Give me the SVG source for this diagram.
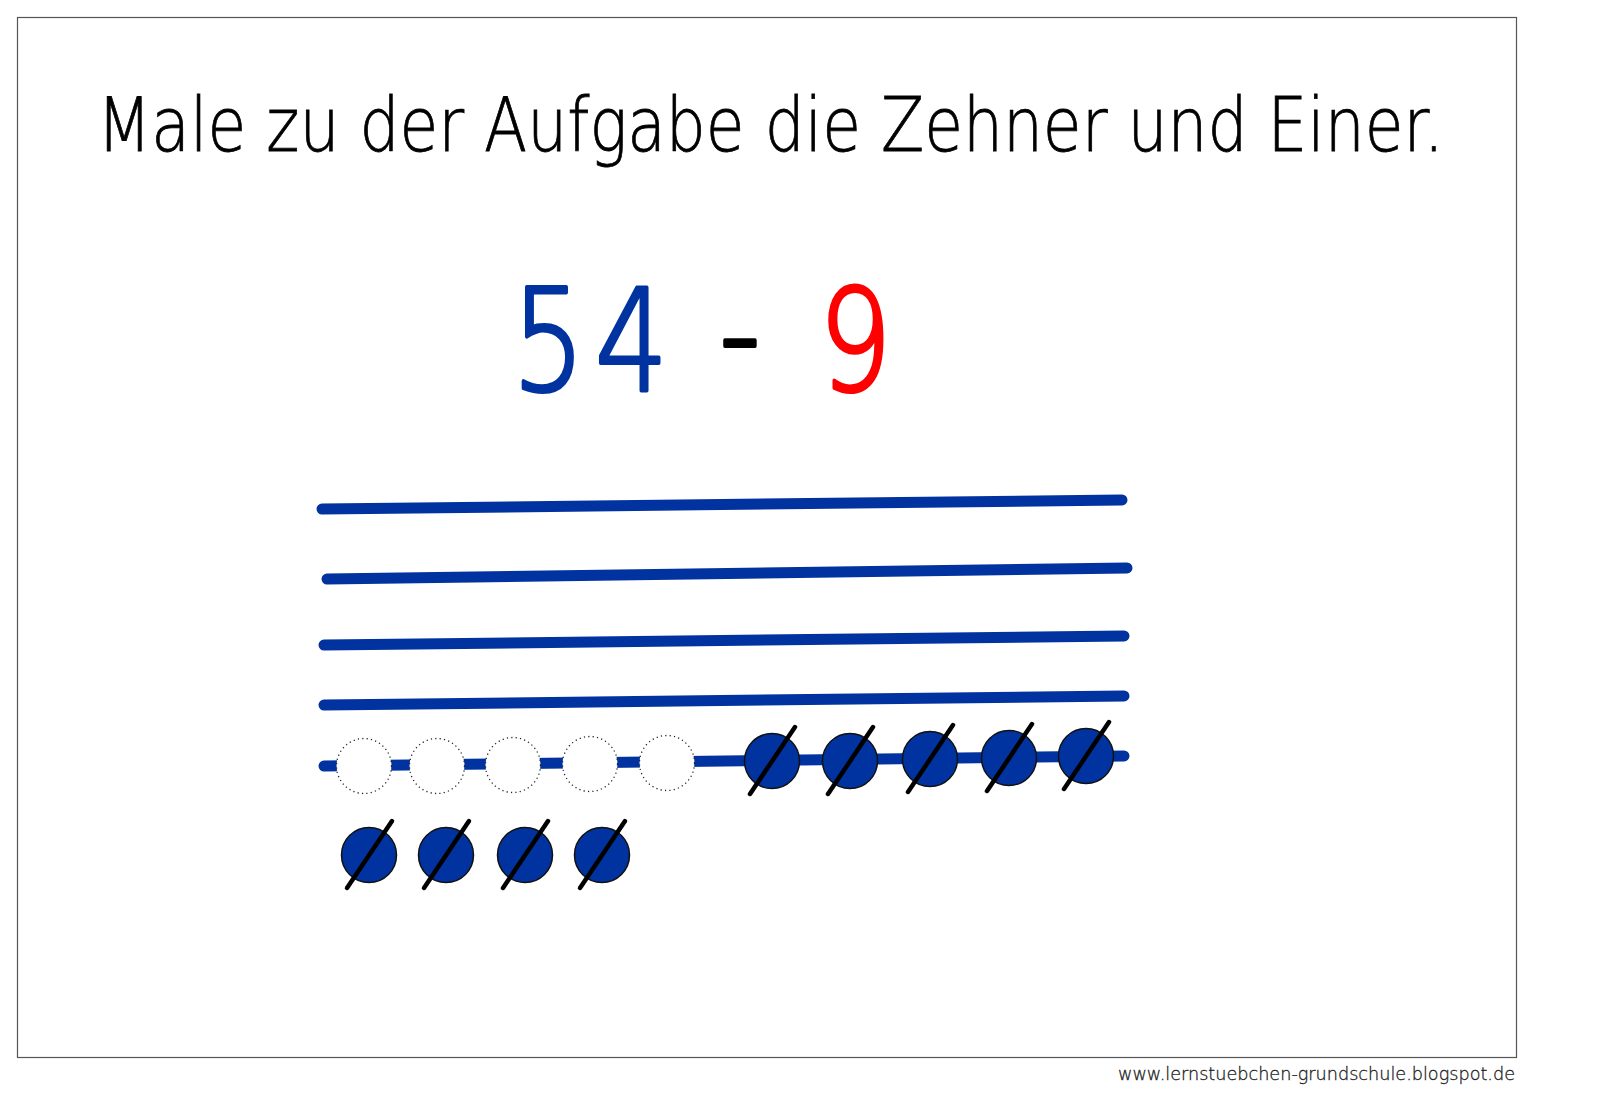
<svg xmlns="http://www.w3.org/2000/svg" width="1600" height="1095" viewBox="0 0 1600 1095">
<style>
.rod{stroke:#0033a0;stroke-width:11;stroke-linecap:round;fill:none}
.bead{fill:#0033a0;stroke:#111;stroke-width:1.5}
.slash{stroke:#000;stroke-width:4.5;stroke-linecap:round}
.empty{fill:#fff;stroke:#222;stroke-width:1.3;stroke-dasharray:1.2 3.2}
.t{font-family:"DejaVu Sans","Liberation Sans",sans-serif;font-weight:200}
.big{font-size:140px;text-anchor:middle;stroke-width:4;stroke-linejoin:round}
</style>
<defs>
<g id="xbead"><circle class="bead" r="27.5"/><line class="slash" x1="-22" y1="33" x2="23" y2="-34"/></g>
</defs>
<rect x="17.5" y="17.5" width="1499" height="1040" fill="#fff" stroke="#555" stroke-width="1.2"/>
<g id="title" transform="matrix(0.836 0 0 1 0 0)"><text class="t" x="116" y="151" font-size="75" textLength="1611" lengthAdjust="spacingAndGlyphs" fill="#000" stroke="#000" stroke-width="0.8">Male zu der Aufgabe die Zehner und Einer.</text></g>
<g id="task" transform="matrix(0.82 0 0 1 0 0)">
<text class="t big" y="390" fill="#0033a0" stroke="#0033a0"><tspan x="669">5</tspan><tspan x="770">4</tspan></text>
<text class="t big" x="902.4" y="382" fill="#000" stroke="#000">-</text>
<text class="t big" x="1043" y="390" fill="#ff0000" stroke="#ff0000">9</text>
</g>
<g id="rods">
<line class="rod" x1="322" y1="509" x2="1122" y2="500"/>
<line class="rod" x1="327" y1="579" x2="1127" y2="568"/>
<line class="rod" x1="324" y1="645" x2="1124" y2="636"/>
<line class="rod" x1="324" y1="705" x2="1124" y2="696"/>
<line class="rod" x1="324" y1="766" x2="1124" y2="756"/>
</g>
<g id="empty-beads">
<circle class="empty" cx="364" cy="766" r="27.5"/>
<circle class="empty" cx="437" cy="766" r="27.5"/>
<circle class="empty" cx="513" cy="765" r="27.5"/>
<circle class="empty" cx="590" cy="764" r="27.5"/>
<circle class="empty" cx="667" cy="763" r="27.5"/>
</g>
<g id="crossed-beads-rod">
<use href="#xbead" x="772" y="761"/>
<use href="#xbead" x="850" y="761"/>
<use href="#xbead" x="930" y="759"/>
<use href="#xbead" x="1009" y="758"/>
<use href="#xbead" x="1086" y="756"/>
</g>
<g id="crossed-beads-units">
<use href="#xbead" x="369" y="855"/>
<use href="#xbead" x="446" y="855"/>
<use href="#xbead" x="525" y="855"/>
<use href="#xbead" x="602" y="855"/>
</g>
<g id="footer"><text class="t" x="1118" y="1080" font-size="17" textLength="397" lengthAdjust="spacingAndGlyphs" fill="#222" stroke="#222" stroke-width="0.3">www.lernstuebchen-grundschule.blogspot.de</text></g>
</svg>
